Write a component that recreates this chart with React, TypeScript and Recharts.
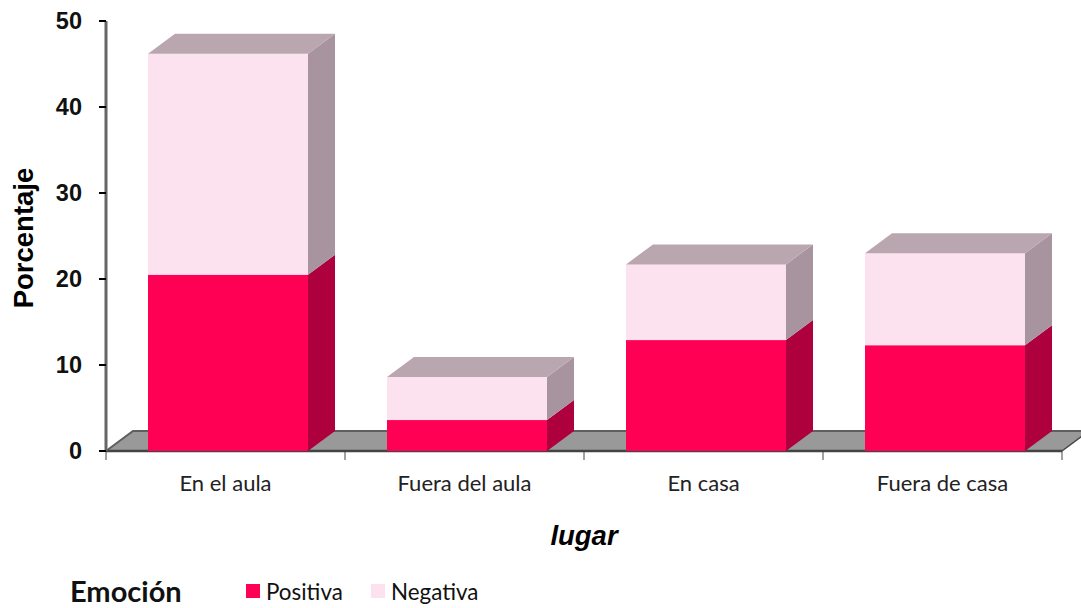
import { Bar, BarChart, Label, Legend, XAxis, YAxis, usePlotArea } from "recharts"

const categories = ["En el aula", "Fuera del aula", "En casa", "Fuera de casa"]
const positiva = [20.5, 3.6, 12.9, 12.3]
const negativa = [25.7, 5.0, 8.8, 10.7]
const yTicks = [0, 10, 20, 30, 40, 50]

const data = categories.map((name, i) => ({ name, positiva: positiva[i], negativa: negativa[i] }))

const DEPTH_X = 27
const DEPTH_Y = 20
const sans = "'Liberation Sans', Arial, sans-serif"

// floor of the fake 3d box, plus the ticks between the categories
function Floor() {
    const plot = usePlotArea()
    if (!plot) return null
    const left = plot.x
    const right = plot.x + plot.width
    const base = plot.y + plot.height
    const back = base - DEPTH_Y
    const step = plot.width / categories.length
    return (
        <g>
            <polygon
                points={`${left},${base} ${left + DEPTH_X},${back} ${right + DEPTH_X},${back} ${right},${base}`}
                fill="#999999"
            />
            <polyline
                points={`${left},${base} ${left + DEPTH_X},${back} ${right + DEPTH_X},${back}`}
                fill="none"
                stroke="#5f5f5f"
                strokeWidth={2}
            />
            <line x1={left} x2={right} y1={base} y2={base} stroke="#444444" strokeWidth={2.5} />
            <line x1={right} x2={right + DEPTH_X} y1={base} y2={back} stroke="#444444" strokeWidth={1.5} />
            {[0, 1, 2, 3, 4].map((i) => (
                <line
                    key={i}
                    x1={left + i * step}
                    x2={left + i * step}
                    y1={base}
                    y2={base + 9}
                    stroke="#444444"
                    strokeWidth={1}
                />
            ))}
        </g>
    )
}

function Box3D(props: any) {
    const { y, width, height, fill, side, top } = props
    const x = props.x + 2
    const r = x + width
    const b = y + height
    return (
        <g>
            <rect x={x} y={y} width={width} height={height} fill={fill} />
            <polygon
                points={`${r},${b} ${r + DEPTH_X},${b - DEPTH_Y} ${r + DEPTH_X},${y - DEPTH_Y} ${r},${y}`}
                fill={side}
            />
            {top && (
                <polygon
                    points={`${x},${y} ${x + DEPTH_X},${y - DEPTH_Y} ${r + DEPTH_X},${y - DEPTH_Y} ${r},${y}`}
                    fill={top}
                />
            )}
        </g>
    )
}

function LegendBox(props: any) {
    const widths = [125, 120]
    return (
        <div style={{ position: "relative", height: 30, fontFamily: "Lato, sans-serif", color: "#111" }}>
            <span style={{ position: "absolute", left: 70, top: -2, fontSize: 29, fontWeight: 700, lineHeight: "30px" }}>
                Emoción
            </span>
            <div style={{ position: "absolute", left: 246, top: -2, display: "flex", height: 30, alignItems: "center" }}>
                {(props.payload || []).map((item: any, i: number) => (
                    <div key={item.value} style={{ display: "flex", alignItems: "center", width: widths[i], fontSize: 22.4 }}>
                        <span style={{ width: 14, height: 14, background: item.color, marginRight: 6 }} />
                        {item.value}
                    </div>
                ))}
            </div>
        </div>
    )
}

export default function App() {
    return (
        <div style={{ position: "absolute", left: 0, top: 0 }}>
            <BarChart
                width={1081}
                height={608}
                data={data}
                barSize={160}
                margin={{ top: 21, right: 19, bottom: 0, left: 0 }}
            >
                <Floor />
                <XAxis
                    dataKey="name"
                    axisLine={false}
                    tickLine={false}
                    tickSize={0}
                    tickMargin={24}
                    height={115}
                    interval={0}
                    tick={{ fontFamily: "Lato, sans-serif", fontSize: 22, fill: "#222" }}
                >
                    <Label
                        value="lugar"
                        position="insideBottom"
                        offset={21}
                        style={{ fontFamily: sans, fontSize: 27.5, fontWeight: 700, fontStyle: "italic", fill: "#000" }}
                    />
                </XAxis>
                <YAxis
                    width={106}
                    domain={[0, 50]}
                    ticks={yTicks}
                    tickSize={7}
                    tickMargin={17}
                    axisLine={{ stroke: "#666666", strokeWidth: 3 }}
                    tickLine={{ stroke: "#000000", strokeWidth: 2 }}
                    tick={{ fontFamily: sans, fontSize: 23.5, fontWeight: 700, fill: "#111" }}
                >
                    <Label
                        value="Porcentaje"
                        angle={-90}
                        position="insideLeft"
                        offset={23}
                        dy={2}
                        style={{ fontFamily: sans, fontSize: 27.5, fontWeight: 700, fill: "#000", textAnchor: "middle" }}
                    />
                </YAxis>
                <Legend
                    height={42}
                    itemSorter={null}
                    content={<LegendBox />}
                    wrapperStyle={{ top: 578, left: 0, width: 1081, bottom: "auto" }}
                />
                <Bar
                    dataKey="positiva"
                    name="Positiva"
                    stackId="a"
                    fill="#FF0055"
                    isAnimationActive={false}
                    shape={<Box3D side="#AD003C" />}
                />
                <Bar
                    dataKey="negativa"
                    name="Negativa"
                    stackId="a"
                    fill="#FCE1EF"
                    isAnimationActive={false}
                    shape={<Box3D side="#A8949E" top="#BAA6AF" />}
                />
            </BarChart>
        </div>
    )
}
